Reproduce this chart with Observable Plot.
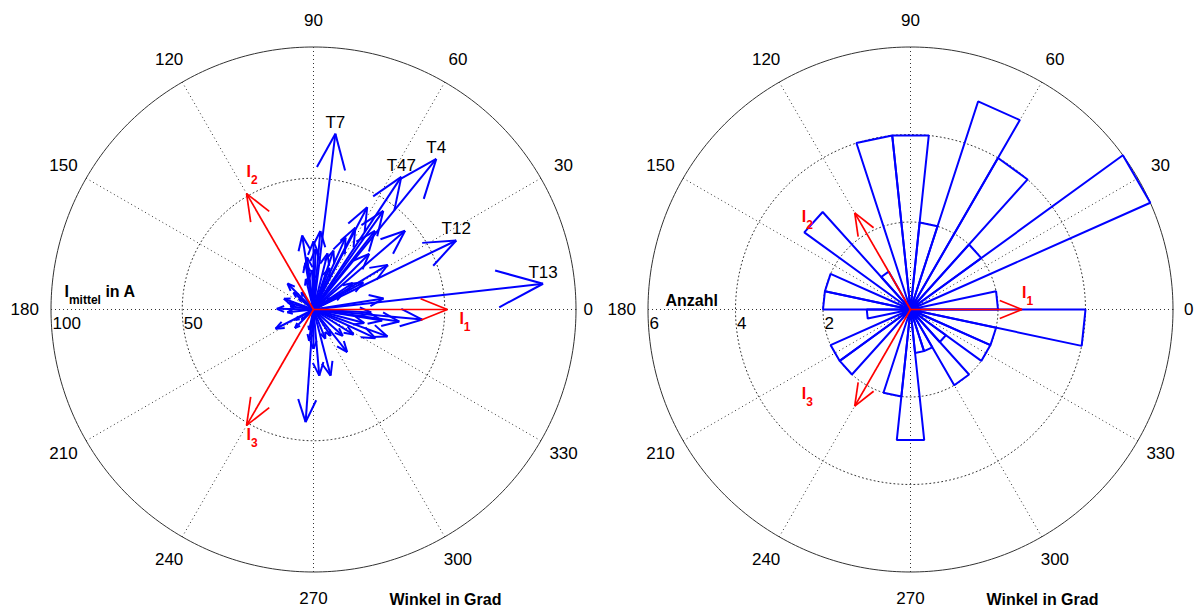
<!DOCTYPE html>
<html>
<head>
<meta charset="utf-8">
<script src="https://cdn.jsdelivr.net/npm/d3@7"></script>
<script src="https://cdn.jsdelivr.net/npm/@observablehq/plot@0.6"></script>
<style>
  body { margin: 0; background: #fff; }
  #wrap { display: flex; width: 1195px; height: 609px; overflow: hidden; }
  #wrap svg { display: block; }
</style>
</head>
<body>
<div id="wrap"></div>
<script>
// ---------------- data ----------------
// Left panel: compass vectors (angle in degrees, mean current in A)
const vecAngle = [6.4, 9, 25.8, 28.6, 31, 34, 27, 33, 40.7, 45, 50.8, 56.5, 54.7, 52,
  62.3, 62.9, 71.3, 66, 69, 82.9, 76, 88, 85, 92, 90, 98.7, 100, 104, 97, 125,
  140, 135, 143, 160, 165, 179, 172, 186, 206.9, 210, 220, 225, 258, 262, 266,
  270, 275, 284.5, 292, 308.3, 303, 318, 335.2, 328, 340, 345, 354.7, 350.9, 352, 357];
const vecMag = [88, 27, 60.4, 21.6, 33, 18, 12, 8, 46, 30, 74, 60.6, 46, 38,
  44, 35, 23.7, 30, 17, 67.5, 22, 23, 30, 15, 26, 28.5, 18, 12, 20, 8,
  10, 14, 7, 12, 10, 14, 9, 10, 16.2, 8, 6, 10, 8, 12, 43,
  15, 25.3, 26, 12, 20.7, 12, 15, 26, 18, 30, 20, 41.6, 26.5, 33, 22];
const vecTag = ["T13", "", "T12", "", "", "", "", "", "", "", "T4", "T47", "", "",
  "", "", "", "", "", "T7", "", "", "", "", "", "", "", "", "", "",
  "", "", "", "", "", "", "", "", "", "", "", "", "", "", "",
  "", "", "", "", "", "", "", "", "", "", "", "", "", "", ""];

// Phase reference arrows
const phaseAngle = [0, 120, 240];
const phaseName = ["1", "2", "3"];
const phaseMagA = 51;     // left panel (A)
const phaseMagN = 2.55;   // right panel (Anzahl)

// Right panel: rose histogram, 12° bins
const binStart = [0, 12, 24, 36, 48, 60, 72, 84, 96, 108, 120, 132, 144, 156, 168,
  180, 192, 204, 216, 228, 240, 252, 264, 276, 288, 300, 312, 324, 336, 348];
const binCount = [2, 0, 6, 2, 4, 5, 2, 4, 4, 0, 1, 3, 0, 2, 2,
  1, 0, 2, 2, 0, 0, 2, 3, 1, 1, 2, 1, 2, 2, 4];
const binWidth = 12;

// Axis ticks
const angleTicks = [0, 30, 60, 90, 120, 150, 180, 210, 240, 270, 300, 330];
const ringsA = [50, 100];
const ringsN = [2, 4, 6];

// ---------------- layout ----------------
const FONT = '"Liberation Sans", Arial, Helvetica, sans-serif';
const H = 609, CX = 313, CY = 309, RPX = 262.5;
const BLUE = "#0000ff", RED = "#ff0000", GRID = "#333";

const rad = d => d * Math.PI / 180;
const pol = (a, r) => [r * Math.cos(rad(a)), r * Math.sin(rad(a))];

function arrowSegs(a, m) {
  const [tx, ty] = pol(a, m);
  const [bx, by] = pol(a, 0.8 * m);
  const [px, py] = pol(a + 90, 0.08 * m);
  return [
    {x1: 0, y1: 0, x2: tx, y2: ty},
    {x1: tx, y1: ty, x2: bx + px, y2: by + py},
    {x1: tx, y1: ty, x2: bx - px, y2: by - py}
  ];
}

function frameMarks(rmax, rings, tickRadius, title, titleDx, titleDy) {
  const circ = [];
  for (const r of rings) for (let a = 0; a <= 360; a += 1) {
    const [x, y] = pol(a, r);
    circ.push({r, x, y});
  }
  const spokes = [30, 60, 90, 120, 150, 180].map(a => {
    const [x, y] = pol(a, rmax);
    return {x1: -x, y1: -y, x2: x, y2: y};
  });
  const ticks = angleTicks.map(a => {
    const [x, y] = pol(a, (tickRadius[a] ?? 1.1) * rmax);
    return {x, y, t: String(a)};
  });
  return [
    Plot.link(spokes, {x1: "x1", y1: "y1", x2: "x2", y2: "y2", stroke: GRID, strokeWidth: 1, strokeDasharray: "1,3"}),
    Plot.line(circ.filter(d => d.r < rmax), {x: "x", y: "y", z: "r", stroke: GRID, strokeWidth: 1, strokeDasharray: "1,3"}),
    Plot.line(circ.filter(d => d.r === rmax), {x: "x", y: "y", z: "r", stroke: "#333", strokeWidth: 1}),
    Plot.text(ticks, {x: "x", y: "y", text: "t", fontSize: 17, textAnchor: "middle", lineAnchor: "middle"}),
    Plot.text(rings, {x: d => -d, y: () => 0, text: d => String(d), fontSize: 17, textAnchor: "start", lineAnchor: "middle", dx: 1.5, dy: 14}),
    Plot.text([title], {x: () => -rmax, y: () => 0, text: d => d, fontSize: 16, fontWeight: "bold", textAnchor: "start", lineAnchor: "bottom", dx: titleDx, dy: titleDy}),
    Plot.text(["Winkel in Grad"], {x: () => 0, y: () => 0, text: d => d, fontSize: 16, fontWeight: "bold", textAnchor: "middle", lineAnchor: "bottom", dx: 132, dy: 295})
  ];
}

function phaseMarks(mag, labelOffsets) {
  const segs = phaseAngle.flatMap(a => arrowSegs(a, mag));
  const labels = phaseAngle.map((a, i) => {
    const [x, y] = pol(a, mag);
    return {x, y, t: "I_" + phaseName[i], dx: labelOffsets[i][0], dy: labelOffsets[i][1]};
  });
  return [
    Plot.link(segs, {x1: "x1", y1: "y1", x2: "x2", y2: "y2", stroke: RED, strokeWidth: 1.7}),
    ...labels.map(l => Plot.text([l], {x: "x", y: "y", text: "t", fill: RED, fontSize: 16, fontWeight: "bold",
      textAnchor: "start", lineAnchor: "bottom", dx: l.dx, dy: l.dy}))
  ];
}

function makePanel(width, rmax, marks) {
  const k = RPX / rmax;
  return Plot.plot({
    width, height: H,
    margin: 0,
    x: {domain: [-CX / k, (width - CX) / k], axis: null},
    y: {domain: [-(H - CY) / k, CY / k], axis: null},
    style: {fontFamily: FONT, fontSize: "16px", overflow: "visible", background: "transparent"},
    marks
  });
}

function subscripts(svg) {
  d3.select(svg).selectAll("text").each(function() {
    const t = this.textContent;
    if (!t.includes("_")) return;
    const parts = t.split("_");
    const sel = d3.select(this);
    sel.text(null);
    parts.forEach((p, i) => {
      const ts = sel.append("tspan").text(p);
      if (i % 2 === 1) ts.attr("font-size", "12px").attr("dy", 7);
      else if (i > 0) ts.attr("dy", -7);
    });
  });
}

// ---- left: compass ----
const vecSegs = vecAngle.flatMap((a, i) => arrowSegs(a, vecMag[i]));
const tagData = vecAngle.map((a, i) => {
  const [x, y] = pol(a, vecMag[i]);
  return {x, y, t: vecTag[i]};
}).filter(d => d.t);

const left = makePanel(597, 100, [
  ...frameMarks(100, ringsA, {0: 1.047}, "I_mittel_ in A", 13.5, -12.5),
  Plot.link(vecSegs, {x1: "x1", y1: "y1", x2: "x2", y2: "y2", stroke: BLUE, strokeWidth: 2}),
  Plot.text(tagData, {x: "x", y: "y", text: "t", fontSize: 17, textAnchor: "middle", lineAnchor: "bottom", dy: -6}),
  ...phaseMarks(phaseMagA, [[12, 14], [0, -17], [0, 15]])
]);

// ---- right: rose ----
const rosePts = [];
binStart.forEach((b, i) => {
  const n = binCount[i];
  if (!n) return;
  const [x1, y1] = pol(b, n);
  const [x2, y2] = pol(b + binWidth, n);
  rosePts.push({z: i, x: 0, y: 0}, {z: i, x: x1, y: y1}, {z: i, x: x2, y: y2}, {z: i, x: 0, y: 0});
});

const right = makePanel(598, 6, [
  ...frameMarks(6, ringsN, {0: 1.06}, "Anzahl", 17.5, -4),
  Plot.line(rosePts, {x: "x", y: "y", z: "z", stroke: BLUE, strokeWidth: 2, strokeLinejoin: "miter", strokeLinecap: "butt"}),
  ...phaseMarks(phaseMagN, [[0, -12], [-53, 9], [-53, -7]])
]);

subscripts(left);
subscripts(right);
document.getElementById("wrap").append(left, right);
</script>
</body>
</html>
